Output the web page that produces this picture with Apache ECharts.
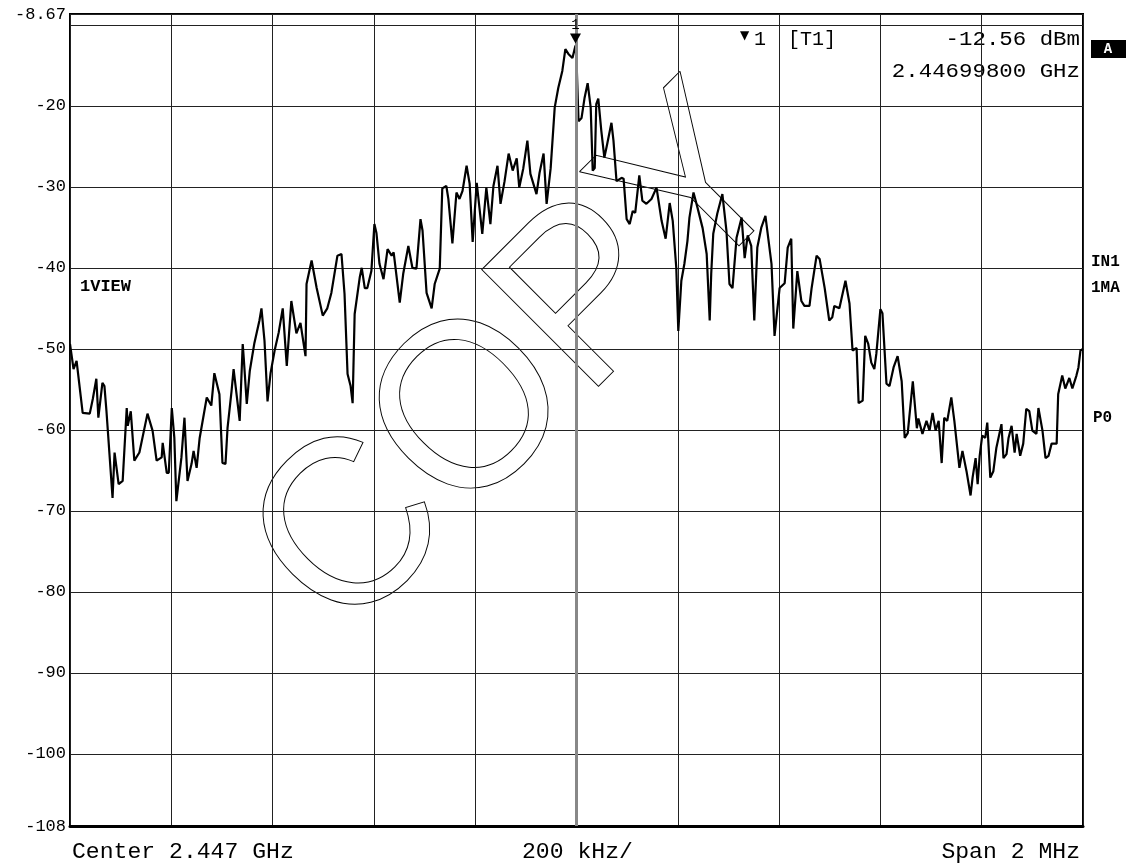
<!DOCTYPE html>
<html>
<head>
<meta charset="utf-8">
<script src="https://cdn.jsdelivr.net/npm/echarts@6/dist/echarts.min.js"></script>
<style>
  html, body { margin: 0; padding: 0; background: #fff; }
  #chart { width: 1137px; height: 864px; }
</style>
</head>
<body>
<div id="chart"></div>
<script>
// trace: offset from center (kHz) and level (dBm)
var traceKHz = [
  -1000,-993,-987,-975,-961,-955,-948,-944,-936,-932,
  -928,-916,-912,-904,-896,-888,-886,-880,-873,-863,
  -847,-837,-829,-819,-817,-809,-805,-799,-794,-790,
  -780,-774,-768,-760,-756,-750,-744,-730,-721,-715,
  -705,-699,-693,-689,-681,-677,-665,-659,-657,-651,
  -645,-636,-626,-622,-616,-610,-604,-596,-588,-580,
  -572,-563,-553,-545,-535,-533,-523,-513,-501,-492,
  -484,-472,-464,-458,-452,-446,-442,-438,-428,-424,
  -418,-413,-405,-399,-395,-389,-381,-373,-365,-361,
  -349,-342,-332,-324,-316,-308,-304,-296,-286,-280,
  -270,-265,-257,-253,-245,-237,-231,-225,-217,-211,
  -205,-197,-186,-178,-170,-164,-156,-150,-142,-134,
  -126,-118,-113,-105,-97,-91,-79,-73,-65,-59,
  -51,-43,-36,-28,-22,-16,-8,-2,0,4,
  10,16,22,28,32,36,39,43,49,55,
  61,69,73,79,89,93,99,105,111,116,
  124,130,138,148,158,168,176,184,190,197,
  201,207,213,219,223,231,239,249,257,263,
  266,270,278,288,296,302,308,316,326,332,
  338,345,351,357,365,373,385,391,401,411,
  417,424,428,436,444,450,460,464,474,480,
  490,499,505,509,519,531,539,545,553,557,
  565,570,576,582,588,592,600,604,612,618,
  626,634,642,648,654,664,672,675,683,691,
  697,703,709,715,721,726,732,740,746,756,
  762,770,778,782,788,792,796,801,807,811,
  817,823,829,839,843,849,853,859,865,869,
  876,882,888,894,900,908,912,920,926,932,
  938,948,951,959,965,973,979,987,991,995,
  1000
];
var traceDbm = [
  -49.4,-52.5,-51.5,-57.9,-58,-56.2,-53.7,-58.5,-54.2,-54.6,
  -57.7,-68.4,-62.8,-66.7,-66.3,-57.3,-59.5,-57.7,-63.8,-62.8,
  -58,-60.1,-63.8,-63.4,-61.6,-65.3,-65.3,-57.3,-61,-68.8,
  -63.4,-58.5,-66.3,-64.2,-62.6,-64.7,-61,-56,-57,-53,
  -55.6,-64.1,-64.2,-59.8,-55.2,-52.5,-58.9,-49.4,-51.1,-56.8,
  -52.7,-49.3,-46.5,-45,-49,-56.5,-53,-50.2,-48,-45,
  -52.1,-44.1,-48.1,-46.8,-50.9,-42,-39.1,-42.5,-45.9,-45,
  -43.1,-38.5,-38.3,-43.2,-53.1,-54.6,-56.7,-45.7,-41.2,-40,
  -42.5,-42.5,-40.4,-34.6,-35.7,-39.5,-41.4,-37.7,-38.5,-38.1,
  -44.3,-40.7,-37.3,-40,-40.1,-34,-35.4,-43.1,-45,-42,
  -40.1,-30.2,-29.9,-31.5,-37,-30.7,-31.5,-30.5,-27.4,-29.6,
  -36.8,-29.5,-35.8,-30.1,-34.6,-29.9,-27.4,-32.1,-29.3,-25.9,
  -28,-26.5,-30.1,-27.7,-24.3,-28.4,-30.9,-28.3,-25.9,-32.1,
  -27.7,-20.2,-17.8,-15.7,-13,-13.6,-14.1,-12.56,-14.3,-21.9,
  -21.5,-19,-17.2,-20.2,-28,-27.7,-19.8,-19.1,-23.1,-26.4,
  -24.6,-22.1,-24.3,-29.3,-28.9,-29,-34,-34.6,-33,-33.2,
  -28.6,-31.7,-32.1,-31.5,-30.1,-34.2,-36.4,-32,-34.2,-40,
  -47.8,-41.6,-39.5,-36.7,-33.8,-30.7,-32.6,-35.1,-38.3,-46.5,
  -40.7,-35.8,-33.3,-30.9,-35.4,-42,-42.5,-36.3,-33.8,-38.8,
  -36,-37.3,-46.5,-37.5,-35,-33.6,-39.5,-48.4,-42.5,-41.9,
  -37.5,-36.4,-47.5,-40.4,-44.1,-44.7,-44.7,-42.6,-38.5,-38.9,
  -42.5,-46.5,-46.1,-44.7,-45,-41.6,-44.4,-50.2,-49.9,-56.7,
  -56.4,-48.4,-49.4,-51.7,-52.5,-50.6,-45.1,-45.6,-54.3,-54.6,
  -52.3,-50.9,-54,-61,-60.4,-54,-59.8,-58.6,-60.5,-58.9,
  -60.1,-57.9,-60.1,-58.9,-64.1,-58.5,-58.9,-56,-58.9,-64.7,
  -62.6,-65.1,-68.1,-65.9,-63.5,-66.7,-63.2,-60.7,-61,-59.1,
  -65.9,-65.1,-62.2,-59.3,-63.5,-63,-61,-59.5,-62.8,-60.5,
  -63.2,-61.7,-57.4,-57.7,-60.1,-60.5,-57.3,-60.1,-63.5,-63.2,
  -61.7,-61.7,-55.6,-53.3,-54.9,-53.6,-54.9,-53.3,-52.3,-50.2,
  -50
];

// axis range (dBm) and marker
var refLevel = -8.67;
var bottomLevel = -108.9;
var marker1 = [-2, -12.56];

var trace = traceKHz.map(function (f, i) { return [f, traceDbm[i]]; });

var mono = 'Liberation Mono';

var chart = echarts.init(document.getElementById('chart'));
chart.setOption({
  backgroundColor: '#fff',
  animation: false,
  grid: {
    left: 70, right: 54, top: 14, bottom: 38,
    show: true, borderColor: '#000', borderWidth: 2
  },
  xAxis: {
    type: 'value',
    min: -1000, max: 1000, interval: 200,
    axisLabel: { show: false },
    axisTick: { show: false },
    axisLine: { lineStyle: { color: '#000', width: 3 } },
    splitLine: { lineStyle: { color: '#222', width: 1 } }
  },
  yAxis: {
    type: 'value',
    min: bottomLevel, max: refLevel, splitNumber: 10,
    axisTick: { show: false },
    axisLine: { lineStyle: { color: '#000', width: 2 } },
    splitLine: { lineStyle: { color: '#222', width: 1 } },
    axisLabel: {
      fontFamily: mono, fontSize: 17, color: '#000', margin: 4,
      showMinLabel: true, showMaxLabel: true,
      formatter: function (v) {
        if (v === -10) return '';
        if (v < -108) return '-108';
        if (v > -9) return '-8.67';
        return String(v);
      }
    }
  },
  series: [
    {
      // center frequency line
      type: 'line',
      data: [],
      silent: true,
      markLine: {
        symbol: 'none',
        silent: true,
        label: { show: false },
        lineStyle: { color: '#888', width: 3, type: 'solid' },
        data: [{ xAxis: 0 }]
      }
    },
    {
      type: 'line',
      data: trace,
      showSymbol: false,
      lineStyle: { color: '#000', width: 2.2 },
      markPoint: {
        symbol: 'triangle',
        symbolRotate: 180,
        symbolSize: [11, 10],
        symbolOffset: [0, -7],
        itemStyle: { color: '#000' },
        label: {
          show: true, position: 'top', distance: 1,
          formatter: '1', color: '#000', fontFamily: mono, fontSize: 14
        },
        data: [{ coord: marker1 }]
      }
    }
  ],
  graphic: [
    { type: 'text', x: 72, y: 852, scaleX: 1.05, style: { text: 'Center 2.447 GHz', font: '22px ' + mono, fill: '#000', textVerticalAlign: 'middle' } },
    { type: 'text', x: 522, y: 852, scaleX: 1.05, style: { text: '200 kHz/', font: '22px ' + mono, fill: '#000', textVerticalAlign: 'middle' } },
    { type: 'text', x: 1080, y: 852, scaleX: 1.05, style: { text: 'Span 2 MHz', font: '22px ' + mono, fill: '#000', textAlign: 'right', textVerticalAlign: 'middle' } },

    { type: 'text', x: 740, y: 36, style: { text: '\u25BC', font: '12px DejaVu Sans', fill: '#000', textVerticalAlign: 'middle' } },
    { type: 'text', x: 754, y: 40, style: { text: '1', font: '20px ' + mono, fill: '#000', textVerticalAlign: 'middle' } },
    { type: 'text', x: 788, y: 40, style: { text: '[T1]', font: '20px ' + mono, fill: '#000', textVerticalAlign: 'middle' } },
    { type: 'text', x: 1080, y: 40, scaleX: 1.12, style: { text: '-12.56 dBm', font: '20px ' + mono, fill: '#000', textAlign: 'right', textVerticalAlign: 'middle' } },
    { type: 'text', x: 1080, y: 72, scaleX: 1.12, style: { text: '2.44699800 GHz', font: '20px ' + mono, fill: '#000', textAlign: 'right', textVerticalAlign: 'middle' } },

    { type: 'rect', shape: { x: 1091, y: 40, width: 35, height: 18 }, style: { fill: '#000' } },
    { type: 'text', x: 1108, y: 49, style: { text: 'A', font: 'bold 14px ' + mono, fill: '#fff', textAlign: 'center', textVerticalAlign: 'middle' } },
    { type: 'text', x: 1091, y: 262, style: { text: 'IN1', font: 'bold 16px ' + mono, fill: '#000', textVerticalAlign: 'middle' } },
    { type: 'text', x: 1091, y: 288, style: { text: '1MA', font: 'bold 16px ' + mono, fill: '#000', textVerticalAlign: 'middle' } },
    { type: 'text', x: 1093, y: 418, style: { text: 'P0', font: 'bold 16px ' + mono, fill: '#000', textVerticalAlign: 'middle' } },
    { type: 'text', x: 80, y: 287, style: { text: '1VIEW', font: 'bold 17px ' + mono, fill: '#000', textVerticalAlign: 'middle' } },

    {
      type: 'text', x: 525, y: 366, rotation: Math.PI / 4, scaleX: 0.95, silent: true,
      style: {
        text: 'COPY', font: '240px Liberation Sans',
        fill: 'rgba(0,0,0,0)', stroke: '#000', lineWidth: 1,
        textAlign: 'center', textVerticalAlign: 'middle'
      }
    }
  ]
});
</script>
</body>
</html>
